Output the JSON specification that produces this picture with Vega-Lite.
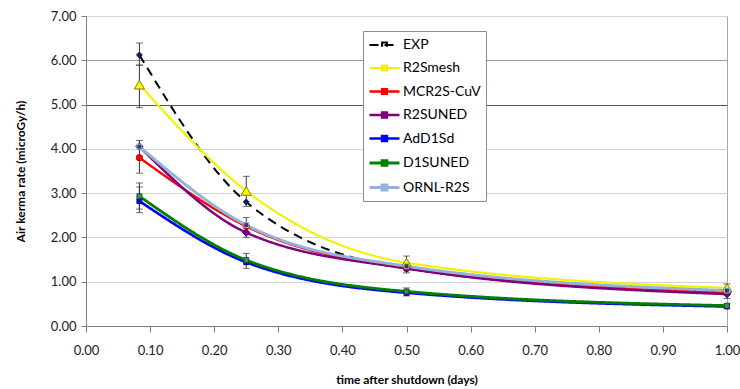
{
  "$schema": "https://vega.github.io/schema/vega-lite/v6.json",
  "width": 641,
  "height": 310,
  "autosize": {"type": "none"},
  "padding": {"left": 86, "top": 16, "right": 13, "bottom": 63},
  "background": "white",
  "config": {
    "font": "Lato",
    "view": {"stroke": "#a6a6a6", "strokeWidth": 1},
    "axis": {"labelFont": "Lato", "labelFontSize": 13, "labelColor": "#222", "titleFont": "Lato", "titleFontSize": 12, "titleFontWeight": "bold", "titleColor": "#000", "domainColor": "#7f7f7f", "tickColor": "#7f7f7f"}
  },
  "datasets": {
    "pts": [
      {"series": "EXP", "t": 0.0833, "v": 6.12},
      {"series": "EXP", "t": 0.25, "v": 2.8},
      {"series": "EXP", "t": 0.5, "v": 1.3},
      {"series": "EXP", "t": 1.0, "v": 0.77},
      {"series": "R2Smesh", "t": 0.0833, "v": 5.45},
      {"series": "R2Smesh", "t": 0.25, "v": 3.05},
      {"series": "R2Smesh", "t": 0.5, "v": 1.43},
      {"series": "R2Smesh", "t": 1.0, "v": 0.86},
      {"series": "MCR2S-CuV", "t": 0.0833, "v": 3.8},
      {"series": "MCR2S-CuV", "t": 0.25, "v": 2.25},
      {"series": "MCR2S-CuV", "t": 0.5, "v": 1.3},
      {"series": "MCR2S-CuV", "t": 1.0, "v": 0.75},
      {"series": "R2SUNED", "t": 0.0833, "v": 4.05},
      {"series": "R2SUNED", "t": 0.25, "v": 2.11},
      {"series": "R2SUNED", "t": 0.5, "v": 1.3},
      {"series": "R2SUNED", "t": 1.0, "v": 0.72},
      {"series": "AdD1Sd", "t": 0.0833, "v": 2.82},
      {"series": "AdD1Sd", "t": 0.25, "v": 1.44},
      {"series": "AdD1Sd", "t": 0.5, "v": 0.75},
      {"series": "AdD1Sd", "t": 1.0, "v": 0.44},
      {"series": "D1SUNED", "t": 0.0833, "v": 2.93},
      {"series": "D1SUNED", "t": 0.25, "v": 1.49},
      {"series": "D1SUNED", "t": 0.5, "v": 0.78},
      {"series": "D1SUNED", "t": 1.0, "v": 0.46},
      {"series": "ORNL-R2S", "t": 0.0833, "v": 4.05},
      {"series": "ORNL-R2S", "t": 0.25, "v": 2.28},
      {"series": "ORNL-R2S", "t": 0.5, "v": 1.35},
      {"series": "ORNL-R2S", "t": 1.0, "v": 0.8}
    ],
    "err": [
      {"t": 0.0833, "lo": 5.89, "hi": 6.39},
      {"t": 0.0833, "lo": 4.93, "hi": 5.89},
      {"t": 0.0833, "lo": 3.45, "hi": 4.19},
      {"t": 0.0833, "lo": 2.64, "hi": 3.23},
      {"t": 0.0833, "lo": 2.56, "hi": 3.14},
      {"t": 0.25, "lo": 2.7, "hi": 3.38},
      {"t": 0.25, "lo": 2.0, "hi": 2.45},
      {"t": 0.25, "lo": 1.3, "hi": 1.64},
      {"t": 0.5, "lo": 1.2, "hi": 1.58},
      {"t": 0.5, "lo": 0.68, "hi": 0.86},
      {"t": 1.0, "lo": 0.62, "hi": 0.95},
      {"t": 1.0, "lo": 0.4, "hi": 0.5}
    ]
  },
  "encoding": {
    "x": {"field": "t", "type": "quantitative", "scale": {"domain": [0, 1], "nice": false, "zero": false},
      "axis": {"title": "time after shutdown (days)", "values": [0, 0.1, 0.2, 0.3, 0.4, 0.5, 0.6, 0.7, 0.8, 0.9, 1.0], "format": ".2f", "grid": false, "tickSize": 6, "labelPadding": 12, "titlePadding": 17, "labelFlush": false}}
  },
  "layer": [
    {
      "data": {"name": "pts"},
      "mark": {"type": "line", "interpolate": "monotone"},
      "encoding": {
        "y": {"field": "v", "type": "quantitative", "scale": {"domain": [0, 7], "nice": false},
          "axis": {"title": "Air kerma rate (microGy/h)", "values": [0, 1, 2, 3, 4, 5, 6, 7], "format": ".2f", "tickSize": 5, "labelPadding": 5, "titlePadding": 23,
            "gridColor": {"condition": [{"test": "datum.value === 5", "value": "#555555"}, {"test": "datum.value === 6", "value": "#9a9a9a"}], "value": "#d4d4d4"},
            "labelFlush": false}},
        "color": {"field": "series", "type": "nominal",
          "scale": {"domain": ["EXP", "R2Smesh", "MCR2S-CuV", "R2SUNED", "AdD1Sd", "D1SUNED", "ORNL-R2S"],
                    "range": ["#000000", "#f2f200", "#ff0000", "#800080", "#0000ff", "#008000", "#95b3d7"]},
          "legend": {
            "title": null, "orient": "none", "legendX": 277, "legendY": 15,
            "fillColor": "white", "strokeColor": "#8c8c8c", "padding": 5,
            "symbolType": "M-1.875,0H1.875M-0.3,-0.3H0.3V0.3H-0.3Z",
            "symbolSize": 256, "symbolOffset": 7, "labelOffset": 9, "rowPadding": 6.5, "symbolStrokeWidth": 2.5,
            "labelFont": "Lato", "labelFontSize": 14, "labelColor": "#000"
          }},
        "strokeDash": {"field": "series", "type": "nominal",
          "scale": {"domain": ["EXP", "R2Smesh", "MCR2S-CuV", "R2SUNED", "AdD1Sd", "D1SUNED", "ORNL-R2S"],
                    "range": [[9, 6], [1, 0], [1, 0], [1, 0], [1, 0], [1, 0], [1, 0]]}, "legend": null},
        "strokeWidth": {"field": "series", "type": "nominal",
          "scale": {"domain": ["EXP", "R2Smesh", "MCR2S-CuV", "R2SUNED", "AdD1Sd", "D1SUNED", "ORNL-R2S"],
                    "range": [2, 3, 2, 2.5, 3, 3.5, 2.5]}, "legend": null}
      }
    },
    {
      "data": {"name": "err"},
      "mark": {"type": "rule", "color": "#333333", "strokeWidth": 1},
      "encoding": {
        "y": {"field": "lo", "type": "quantitative"},
        "y2": {"field": "hi"}
      }
    },
    {
      "data": {"name": "err"},
      "mark": {"type": "tick", "orient": "horizontal", "color": "#333333", "size": 7, "thickness": 1},
      "encoding": {"y": {"field": "lo", "type": "quantitative"}}
    },
    {
      "data": {"name": "err"},
      "mark": {"type": "tick", "orient": "horizontal", "color": "#333333", "size": 7, "thickness": 1},
      "encoding": {"y": {"field": "hi", "type": "quantitative"}}
    },
    {
      "data": {"name": "pts"},
      "mark": {"type": "point", "filled": false, "opacity": 1, "strokeWidth": 1},
      "encoding": {
        "y": {"field": "v", "type": "quantitative"},
        "shape": {"condition": [
          {"test": "datum.series === 'EXP' || datum.series === 'R2SUNED'", "value": "diamond"},
          {"test": "datum.series === 'R2Smesh'", "value": "triangle-up"},
          {"test": "datum.series === 'MCR2S-CuV'", "value": "circle"}
        ], "value": "square"},
        "size": {"condition": [
          {"test": "datum.series === 'EXP'", "value": 35},
          {"test": "datum.series === 'R2Smesh'", "value": 100},
          {"test": "datum.series === 'MCR2S-CuV'", "value": 40},
          {"test": "datum.series === 'R2SUNED'", "value": 55}
        ], "value": 24},
        "fill": {"condition": [
          {"test": "datum.series === 'EXP'", "value": "#1a1a4e"},
          {"test": "datum.series === 'R2Smesh'", "value": "#ffff00"},
          {"test": "datum.series === 'MCR2S-CuV'", "value": "#ff0000"},
          {"test": "datum.series === 'R2SUNED'", "value": "#7f007f"},
          {"test": "datum.series === 'AdD1Sd'", "value": "#0000ff"},
          {"test": "datum.series === 'D1SUNED'", "value": "#3f8f5f"}
        ], "value": "#2f3f5f"},
        "stroke": {"condition": [
          {"test": "datum.series === 'EXP'", "value": "#1a1a4e"},
          {"test": "datum.series === 'R2Smesh'", "value": "#7f7f00"},
          {"test": "datum.series === 'MCR2S-CuV'", "value": "#c00000"},
          {"test": "datum.series === 'R2SUNED'", "value": "#5f005f"},
          {"test": "datum.series === 'AdD1Sd'", "value": "#00008f"},
          {"test": "datum.series === 'D1SUNED'", "value": "#1f4f2f"}
        ], "value": "#95b3d7"}
      }
    }
  ]
}
